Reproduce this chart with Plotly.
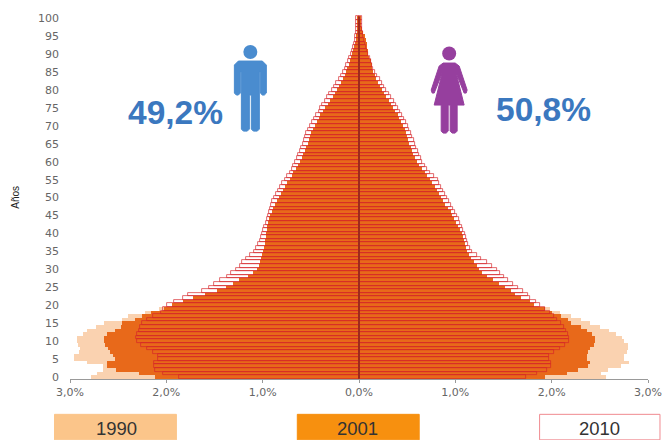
import plotly.graph_objects as go

ages = list(range(101))
x_ticks = [-3, -2, -1, 0, 1, 2, 3]
x_labels = ["3,0%", "2,0%", "1,0%", "0,0%", "1,0%", "2,0%", "3,0%"]
y_ticks = list(range(0, 101, 5))

male_1990 = [2.78,2.72,2.66,2.66,2.82,2.96,2.96,2.91,2.90,2.92,
             2.93,2.93,2.86,2.82,2.73,2.65,2.46,2.40,2.22,2.08,
             1.90,1.75,1.60,1.45,1.35,1.28,1.20,1.15,1.10,1.05,
             1.02,1.00,0.99,0.98,0.97,0.96,0.95,0.94,0.94,0.93,
             0.92,0.91,0.90,0.89,0.88,0.87,0.85,0.84,0.82,0.80,
             0.78,0.76,0.74,0.72,0.70,0.68,0.66,0.64,0.62,0.60,
             0.58,0.56,0.55,0.53,0.52,0.50,0.49,0.48,0.47,0.46,
             0.44,0.42,0.39,0.36,0.33,0.30,0.28,0.26,0.24,0.22,
             0.20,0.18,0.16,0.14,0.12,0.11,0.10,0.08,0.07,0.06,
             0.05,0.04,0.035,0.03,0.025,0.02,0.015,0.01,0.01,0.005,0.005]
female_1990 = [2.56,2.51,2.58,2.72,2.80,2.75,2.75,2.78,2.79,2.79,
               2.75,2.73,2.67,2.60,2.50,2.40,2.30,2.20,2.09,1.98,
               1.78,1.70,1.62,1.56,1.52,1.46,1.40,1.34,1.28,1.24,
               1.20,1.18,1.15,1.12,1.10,1.08,1.07,1.06,1.05,1.04,
               1.03,1.01,0.99,0.97,0.95,0.93,0.91,0.88,0.85,0.83,
               0.81,0.79,0.77,0.75,0.72,0.70,0.67,0.64,0.61,0.58,
               0.56,0.54,0.52,0.51,0.50,0.48,0.47,0.46,0.45,0.44,
               0.42,0.40,0.38,0.36,0.34,0.32,0.30,0.28,0.26,0.24,
               0.22,0.20,0.18,0.16,0.14,0.12,0.11,0.10,0.08,0.07,
               0.06,0.05,0.04,0.03,0.03,0.02,0.015,0.01,0.01,0.005,0.005]
male_2001 = [2.12,2.28,2.52,2.62,2.62,2.53,2.55,2.58,2.61,2.64,
             2.65,2.65,2.62,2.53,2.47,2.46,2.33,2.25,2.16,2.02,
             1.94,1.83,1.72,1.60,1.47,1.38,1.31,1.25,1.15,1.10,
             1.06,1.04,1.03,1.02,1.01,1.00,0.99,0.98,0.98,0.97,
             0.97,0.96,0.95,0.94,0.93,0.92,0.90,0.89,0.87,0.85,
             0.83,0.81,0.79,0.77,0.75,0.72,0.70,0.68,0.65,0.63,
             0.61,0.59,0.58,0.56,0.55,0.53,0.52,0.51,0.50,0.48,
             0.46,0.44,0.42,0.40,0.37,0.35,0.32,0.30,0.27,0.25,
             0.23,0.21,0.19,0.17,0.15,0.13,0.12,0.10,0.09,0.08,
             0.07,0.06,0.05,0.04,0.035,0.03,0.025,0.02,0.02,0.02,0.02]
female_2001 = [1.93,2.16,2.27,2.38,2.40,2.37,2.37,2.38,2.40,2.44,
               2.45,2.45,2.42,2.37,2.30,2.20,2.17,2.10,2.00,1.93,
               1.82,1.77,1.68,1.62,1.58,1.52,1.45,1.39,1.33,1.28,
               1.25,1.22,1.19,1.16,1.14,1.12,1.11,1.10,1.09,1.08,
               1.07,1.05,1.03,1.01,0.99,0.97,0.95,0.92,0.89,0.87,
               0.85,0.83,0.81,0.79,0.76,0.74,0.71,0.68,0.65,0.62,
               0.60,0.58,0.56,0.55,0.54,0.52,0.51,0.50,0.49,0.48,
               0.46,0.44,0.42,0.40,0.37,0.35,0.33,0.31,0.28,0.26,
               0.235,0.22,0.20,0.18,0.17,0.15,0.14,0.13,0.12,0.105,
               0.095,0.09,0.085,0.08,0.07,0.06,0.045,0.03,0.02,0.02,0.02]
male_2010 = [1.87,2.03,2.12,2.13,2.13,2.09,2.09,2.14,2.20,2.26,
             2.30,2.31,2.30,2.28,2.27,2.25,2.20,2.14,2.06,2.03,
             1.99,1.92,1.83,1.77,1.63,1.56,1.51,1.44,1.37,1.33,
             1.28,1.24,1.21,1.17,1.13,1.09,1.07,1.05,1.03,1.02,
             1.01,1.00,0.99,0.97,0.96,0.94,0.93,0.92,0.91,0.90,
             0.88,0.86,0.84,0.82,0.80,0.77,0.75,0.72,0.70,0.68,
             0.66,0.64,0.63,0.61,0.60,0.58,0.57,0.56,0.55,0.53,
             0.51,0.49,0.47,0.45,0.42,0.40,0.38,0.35,0.33,0.31,
             0.285,0.26,0.24,0.21,0.19,0.165,0.15,0.13,0.115,0.10,
             0.08,0.07,0.06,0.05,0.045,0.04,0.035,0.03,0.03,0.03,0.035]
female_2010 = [1.73,1.85,1.95,1.99,1.99,1.97,1.97,2.02,2.09,2.14,
               2.18,2.18,2.17,2.15,2.13,2.10,2.06,2.02,1.98,1.93,
               1.88,1.84,1.78,1.75,1.70,1.65,1.60,1.55,1.50,1.46,
               1.43,1.38,1.33,1.27,1.22,1.17,1.15,1.13,1.12,1.11,
               1.10,1.08,1.07,1.05,1.04,1.02,1.00,0.98,0.95,0.93,
               0.91,0.89,0.87,0.85,0.83,0.82,0.78,0.74,0.71,0.68,
               0.65,0.64,0.62,0.61,0.59,0.58,0.57,0.55,0.54,0.52,
               0.51,0.49,0.47,0.45,0.43,0.405,0.38,0.36,0.33,0.31,
               0.28,0.26,0.24,0.22,0.19,0.166,0.15,0.14,0.125,0.11,
               0.095,0.08,0.07,0.06,0.05,0.045,0.04,0.035,0.03,0.03,0.035]

W, H = 665, 440
ML, MR, MT, MB = 69.5, 17, 11, 61.3
C1990, C2001, C2010 = "#FAD2B0", "#E8691A", "rgba(214,36,40,0.9)"

fig = go.Figure()
def bars(vals, side, fill, line_color=None, line_w=0, name=""):
    fig.add_trace(go.Bar(y=ages, x=[side * v for v in vals], orientation="h", width=1, name=name,
                         marker=dict(color=fill, line=dict(color=line_color or fill, width=line_w)),
                         showlegend=False, hoverinfo="skip"))
bars(male_1990, -1, C1990, name="1990 H")
bars(female_1990, 1, C1990, name="1990 M")
bars(male_2001, -1, C2001, name="2001 H")
bars(female_2001, 1, C2001, name="2001 M")
bars(male_2010, -1, "rgba(0,0,0,0)", C2010, 0.75, "2010 H")
bars(female_2010, 1, "rgba(0,0,0,0)", C2010, 0.75, "2010 M")
fig.add_trace(go.Scatter(x=[0, 0], y=[ages[0] - 0.5, ages[-1] + 0.5], mode="lines",
                         line=dict(color="#9E2A1C", width=2), showlegend=False, hoverinfo="skip"))

def px(x): return (x - ML) / (W - ML - MR)
def py(y): return (H - MB - y) / (H - MT - MB)
def pth(pts):
    return "M" + " L".join(f"{px(a):.4f},{py(b):.4f}" for a, b in pts) + " Z"

shapes = []
def poly(pts, c):
    shapes.append(dict(type="path", xref="paper", yref="paper", path=pth(pts), fillcolor=c, line=dict(color=c, width=1)))
def circ(cx, cy, r, c):
    shapes.append(dict(type="circle", xref="paper", yref="paper", x0=px(cx-r), x1=px(cx+r), y0=py(cy+r), y1=py(cy-r),
                       fillcolor=c, line=dict(color=c, width=0)))
MAN = "#4A8CCF"
circ(250, 52, 7, MAN)
poly([(238,61),(262,61),(266,65),(266,93),(264,95),(262,95),(260,93),(260,72),(259,72),(259,129),(257,131),(253,131),(251,129),(251,95),
      (249,95),(249,129),(247,131),(243,131),(241,129),(241,72),(240,72),(240,93),(238,95),(236,95),(234,93),(234,65)], MAN)
WOM = "#963F9E"
circ(449, 53.5, 7, WOM)
poly([(443,63),(455,63),(459,66),(467,90),(466,93),(464,93),(456,73),(464,105),(457,105),(457,131),(455,133),(452,133),(450,131),(450,105),
      (448,105),(448,131),(446,133),(443,133),(441,131),(441,105),(434,105),(442,73),(434,93),(432,93),(431,90),(439,66)], WOM)
for x0, x1, fill, edge in [(54,176,"#FBC58A","#FBC58A"), (297,419,"#F7900F","#F7900F"), (539.5,660,"#FFFFFF","#F08A90")]:
    shapes.append(dict(type="rect", xref="paper", yref="paper", x0=px(x0), x1=px(x1), y0=py(439.5), y1=py(414),
                       fillcolor=fill, line=dict(color=edge, width=1)))

def note(text, x, y, size, color, bold=False, angle=0, family="Liberation Sans"):
    return dict(text=f"<b>{text}</b>" if bold else text, x=px(x), y=py(y), xref="paper", yref="paper", showarrow=False,
                xanchor="center", yanchor="middle", textangle=angle, font=dict(size=size, color=color, family=family))

annotations = [
    note("49,2%", 175.5, 112, 33.5, "#3B78BF", True),
    note("50,8%", 543.5, 109, 33.5, "#3B78BF", True),
    note("Años", 15, 197, 10, "#222222", angle=-90),
    note("1990", 116, 428.5, 18.5, "#333333"),
    note("2001", 357, 428.5, 18.5, "#333333"),
    note("2010", 599.5, 428.5, 18.5, "#333333"),
]

fig.update_layout(
    width=W, height=H, margin=dict(l=ML, r=MR, t=MT, b=MB), autosize=False,
    paper_bgcolor="white", plot_bgcolor="white", barmode="overlay", bargap=0,
    shapes=shapes, annotations=annotations,
    xaxis=dict(range=[-3, 3], tickvals=x_ticks, ticktext=x_labels, showgrid=False, zeroline=False,
               showline=True, linecolor="#999999", linewidth=1, ticks="outside", ticklen=3, tickcolor="#999999",
               tickfont=dict(size=11, color="#666666", family="DejaVu Sans"), automargin=False),
    yaxis=dict(range=[-0.55, 102], tickvals=y_ticks, showgrid=False, zeroline=False, showline=False, ticks="",
               ticklabelstandoff=10, automargin=False,
               tickfont=dict(size=11, color="#666666", family="DejaVu Sans")),
)
fig.write_html("out.html", config={"displayModeBar": False, "responsive": False},
               post_script="document.body.style.margin='0';")
